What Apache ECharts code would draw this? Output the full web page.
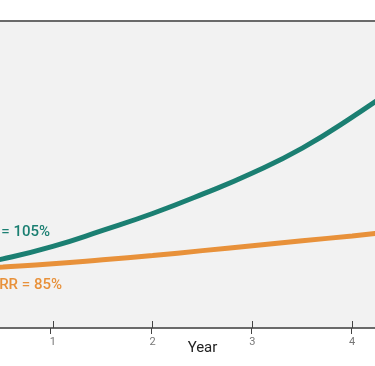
<!DOCTYPE html>
<html>
<head>
<meta charset="utf-8">
<script src="https://cdn.jsdelivr.net/npm/echarts@6/dist/echarts.min.js"></script>
<style>
html,body{margin:0;padding:0;background:#fff;overflow:hidden;width:375px;height:366px;position:relative}
#c{position:absolute;left:-50px;top:0;width:560px;height:366px}
</style>
</head>
<body>
<div id="c"></div>
<script>
const years = [0, 0.5, 1, 1.5, 2, 2.5, 3, 3.5, 4, 4.5, 5];
const nrr105 = [19.2, 22.5, 26.6, 31.8, 37.3, 43.6, 50.5, 58.6, 68.7, 80.0, 93.0];
const nrr85 = [19.0, 19.9, 20.9, 22.2, 23.6, 25.2, 26.8, 28.4, 30.0, 31.7, 33.4];
const xTicks = [1, 2, 3, 4, 5];
const labelHigh = 'NRR = 105%';
const labelLow = 'NRR = 85%';
const xName = 'Year';

const TEAL = '#1b7f72';
const ORANGE = '#e8913a';
const FONT = 'Roboto';

const chart = echarts.init(document.getElementById('c'), null, {renderer: 'canvas'});
const gridBox = {left: 0, width: 502, top: 21, height: 307};
chart.setOption({
  animation: false,
  grid: [
    Object.assign({show: true, backgroundColor: '#f2f2f2', borderColor: '#6a6a6a', borderWidth: 2}, gridBox),
    Object.assign({show: false}, gridBox)
  ],
  xAxis: [{
      gridIndex: 0,
      type: 'value', min: 0, max: 5, interval: 1, splitLine: {show: false},
      name: xName, nameLocation: 'middle', nameGap: 13, nameMoveOverlap: false,
      nameTextStyle: {color: '#222', fontSize: 15, fontFamily: FONT},
      axisLine: {show: true, lineStyle: {color: '#6a6a6a', width: 2}},
      axisTick: {show: true, inside: true, length: 7, lineStyle: {color: '#444', width: 1}},
      axisLabel: {show: true, color: '#777', fontSize: 11, fontFamily: FONT, margin: 9,
                  formatter: v => (xTicks.indexOf(v) >= 0 ? String(v) : '')}
    }, {
      gridIndex: 1,
      type: 'value', min: 0, max: 5, interval: 1, splitLine: {show: false},
      axisLine: {show: false},
      axisTick: {show: true, inside: false, length: 6, lineStyle: {color: '#444', width: 1}},
      axisLabel: {show: false}
  }],
  yAxis: [
    {gridIndex: 0, type: 'value', min: 0, max: 100, show: false, splitLine: {show: false}},
    {gridIndex: 1, type: 'value', min: 0, max: 100, show: false, splitLine: {show: false}}
  ],
  series: [
    {type: 'line', data: years.map((y, i) => [y, nrr105[i]]), smooth: true, symbol: 'none',
     lineStyle: {color: TEAL, width: 5}, z: 3},
    {type: 'line', data: years.map((y, i) => [y, nrr85[i]]), smooth: true, symbol: 'none',
     lineStyle: {color: ORANGE, width: 5}, z: 2}
  ],
  graphic: [
    {type: 'text', x: 100, y: 232, style: {text: labelHigh, fill: TEAL,
      font: '500 15px Roboto', textAlign: 'right', textVerticalAlign: 'middle'}},
    {type: 'text', x: 112, y: 285, style: {text: labelLow, fill: ORANGE,
      font: '500 15px Roboto', textAlign: 'right', textVerticalAlign: 'middle'}}
  ]
});
</script>
</body>
</html>
